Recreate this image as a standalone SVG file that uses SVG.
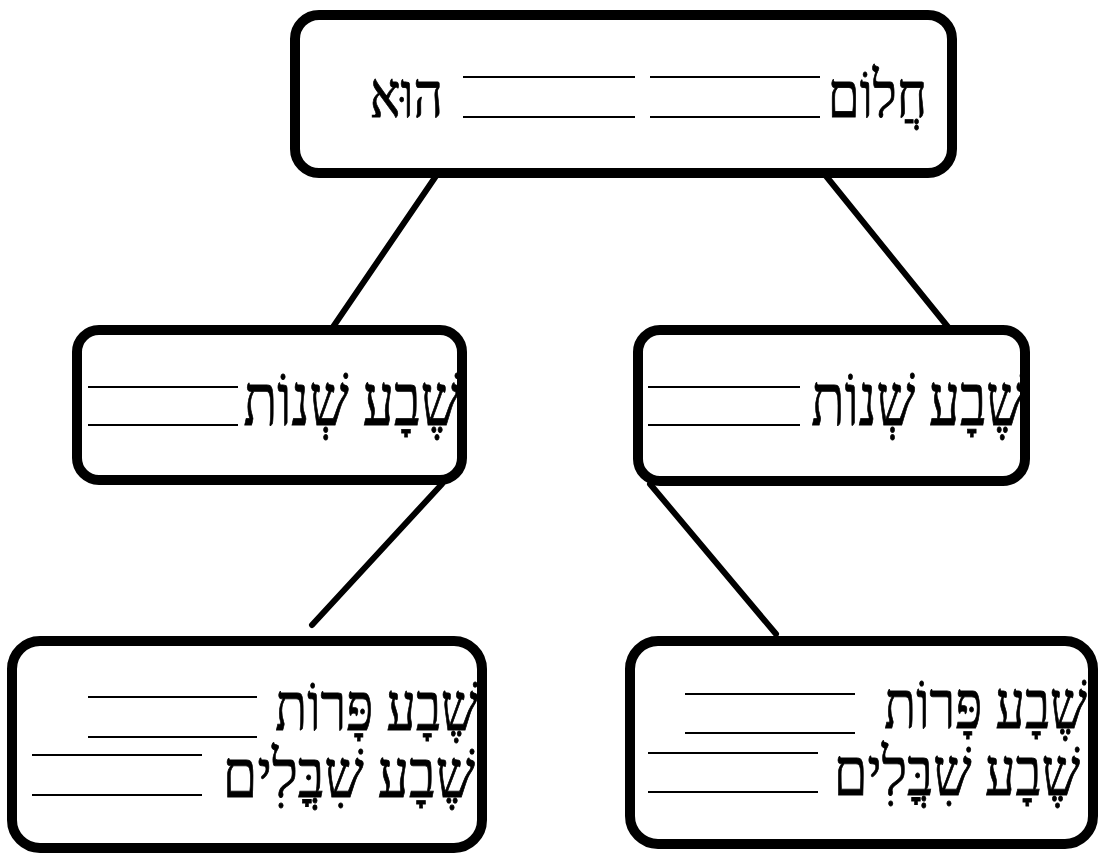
<svg xmlns="http://www.w3.org/2000/svg" width="1101" height="857" viewBox="0 0 1101 857">
<style>
.box{fill:#fff;stroke:#000;stroke-width:10}
.conn{stroke:#000;stroke-width:6;stroke-linecap:round;fill:none}
.blank{stroke:#000;stroke-width:2}
.he{font-family:"Liberation Serif","DejaVu Serif",serif;fill:#000;stroke:#000;stroke-width:0.8;text-anchor:end}
.t1{font-size:64px}
.t2{font-size:72px}
.t3{font-size:66px}
</style>
<rect width="1101" height="857" fill="#fff"/>
<g id="connectors">
<line class="conn" x1="436" y1="176" x2="333" y2="327"/>
<line class="conn" x1="826" y1="176" x2="948" y2="327"/>
<line class="conn" x1="442" y1="484" x2="312" y2="625"/>
<line class="conn" x1="650" y1="484" x2="776" y2="634"/>
</g>
<g id="node-top">
<rect class="box" x="295" y="15" width="657" height="158" rx="24"/>
<text class="he t1" transform="translate(927,117) scale(0.8,1)">חֲלוֹם</text>
<text class="he t1" transform="translate(443,117) scale(0.8,1)">הוּא</text>
<line class="blank" x1="463" y1="77" x2="635" y2="77"/>
<line class="blank" x1="650" y1="77" x2="820" y2="77"/>
<line class="blank" x1="463" y1="117" x2="635" y2="117"/>
<line class="blank" x1="650" y1="117" x2="820" y2="117"/>
</g>
<g id="node-mid-left">
<rect class="box" x="77" y="330" width="385" height="150" rx="22"/>
<text class="he t2" transform="translate(460,425) scale(0.77,1)">שֶׁבָע שְׁנוֹת</text>
<line class="blank" x1="88" y1="387" x2="238" y2="387"/>
<line class="blank" x1="88" y1="425" x2="238" y2="425"/>
</g>
<g id="node-mid-right">
<rect class="box" x="638" y="330" width="387" height="151" rx="22"/>
<text class="he t2" transform="translate(1025,425) scale(0.76,1)">שֶׁבָע שְׁנוֹת</text>
<line class="blank" x1="648" y1="387" x2="800" y2="387"/>
<line class="blank" x1="648" y1="425" x2="800" y2="425"/>
</g>
<g id="node-bottom-left">
<rect class="box" x="12" y="641" width="470" height="207" rx="28"/>
<text class="he t3" transform="translate(478,730) scale(0.79,1)">שֶׁבָע פָּרוֹת</text>
<text class="he t3" transform="translate(475,797) scale(0.84,1)">שֶׁבָע שִׁבֳּלִים</text>
<line class="blank" x1="88" y1="697" x2="257" y2="697"/>
<line class="blank" x1="88" y1="737" x2="257" y2="737"/>
<line class="blank" x1="32" y1="755" x2="202" y2="755"/>
<line class="blank" x1="32" y1="795" x2="202" y2="795"/>
</g>
<g id="node-bottom-right">
<rect class="box" x="630" y="641" width="463" height="203" rx="28"/>
<text class="he t3" transform="translate(1087,728) scale(0.79,1)">שֶׁבָע פָּרוֹת</text>
<text class="he t3" transform="translate(1080,795) scale(0.82,1)">שֶׁבָע שִׁבֳּלִים</text>
<line class="blank" x1="685" y1="694" x2="855" y2="694"/>
<line class="blank" x1="685" y1="733" x2="855" y2="733"/>
<line class="blank" x1="648" y1="753" x2="818" y2="753"/>
<line class="blank" x1="648" y1="792" x2="818" y2="792"/>
</g>
</svg>
